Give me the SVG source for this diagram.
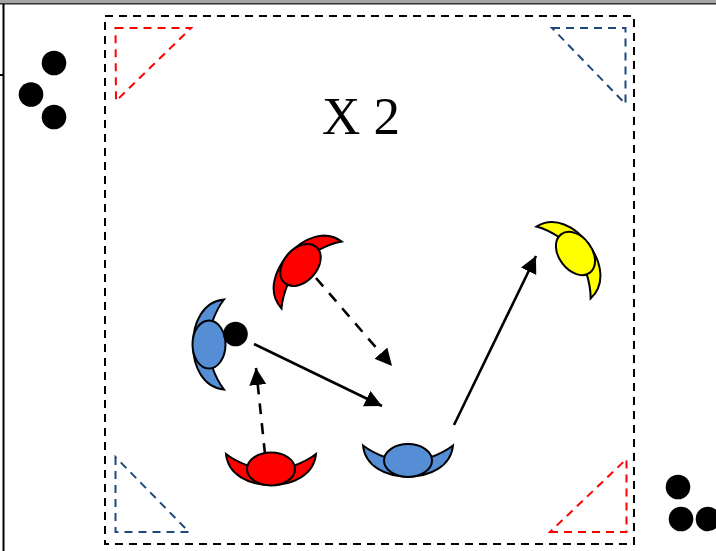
<svg xmlns="http://www.w3.org/2000/svg" width="716" height="551" viewBox="0 0 716 551">
<style>
.frame{fill:none;stroke:#000;stroke-width:2;stroke-dasharray:8 6}
.tri{fill:none;stroke-width:2;stroke-dasharray:8 6}
.r{stroke:#f00}.b{stroke:#1f497d}
.ol{stroke:#000;stroke-width:2}
.red{fill:#f00}.blue{fill:#558ed5}.yel{fill:#ff0}
.dot{fill:#000}
.s{fill:none;stroke:#000;stroke-width:2.6;marker-end:url(#ah)}
.d{stroke-dasharray:11 9}
text{font-family:"Liberation Serif","Times New Roman",serif;font-size:53px;fill:#000}
</style>
<defs>
<marker id="ah" markerUnits="userSpaceOnUse" markerWidth="20" markerHeight="20" refX="17" refY="8.500" orient="auto"><path d="M0,0L17,8.500L0,17Z" fill="#000"/></marker>
<g id="pl"><path class="ol" d="M-45,-15C-43,6 -22,16 0,16C22,16 43,6 45,-15Q36,-8 22,-3L-22,-3Q-36,-8 -45,-15Z"/><ellipse class="ol" rx="24" ry="16.500"/></g>
</defs>
<rect width="716" height="551" fill="#fff"/>
<g id="page">
<rect x="0" y="0" width="716" height="3" fill="#a6a6a6"/>
<rect x="0" y="3" width="716" height="1.500" fill="#333"/>
<path d="M3.500,4V551M0,75H3" stroke="#000" stroke-width="2" fill="none"/>
</g>
<rect id="field" class="frame" x="105" y="16" width="529" height="528"/>
<g id="cones">
<path class="tri r" d="M115.500,28H191L116,101Z"/>
<path class="tri b" d="M552,28H625.500V104Z"/>
<path class="tri b" d="M115.500,457V532H189Z"/>
<path class="tri r" d="M550,532H626.500V459Z"/>
</g>
<g id="balls-left"><circle class="dot" cx="54" cy="63" r="12.300"/><circle class="dot" cx="31" cy="94.500" r="12.300"/><circle class="dot" cx="54" cy="117" r="12.300"/></g>
<g id="balls-right"><circle class="dot" cx="678" cy="487" r="12.300"/><circle class="dot" cx="681" cy="519" r="12.300"/><circle class="dot" cx="708" cy="519" r="12.300"/></g>
<text id="label" x="322" y="134">X 2</text>
<g id="connectors">
<path class="s d" d="M316,278L392,366"/>
<path class="s d" d="M265,454L256,368"/>
<path class="s" d="M254,344L382,406"/>
<path class="s" d="M454,425L536,256"/>
</g>
<g id="red-top" class="red"><use href="#pl" transform="translate(300.500,265) rotate(132)"/></g>
<g id="blue-left" class="blue"><use href="#pl" transform="translate(209,344.500) rotate(90)"/></g>
<g id="ball-held"><circle class="dot" cx="235.500" cy="334" r="12.300"/></g>
<g id="yellow" class="yel"><use href="#pl" transform="translate(575.500,253.500) rotate(233)"/></g>
<g id="red-bottom" class="red"><use href="#pl" transform="translate(271,469)"/></g>
<g id="blue-bottom" class="blue"><use href="#pl" transform="translate(408,460.500)"/></g>
</svg>
